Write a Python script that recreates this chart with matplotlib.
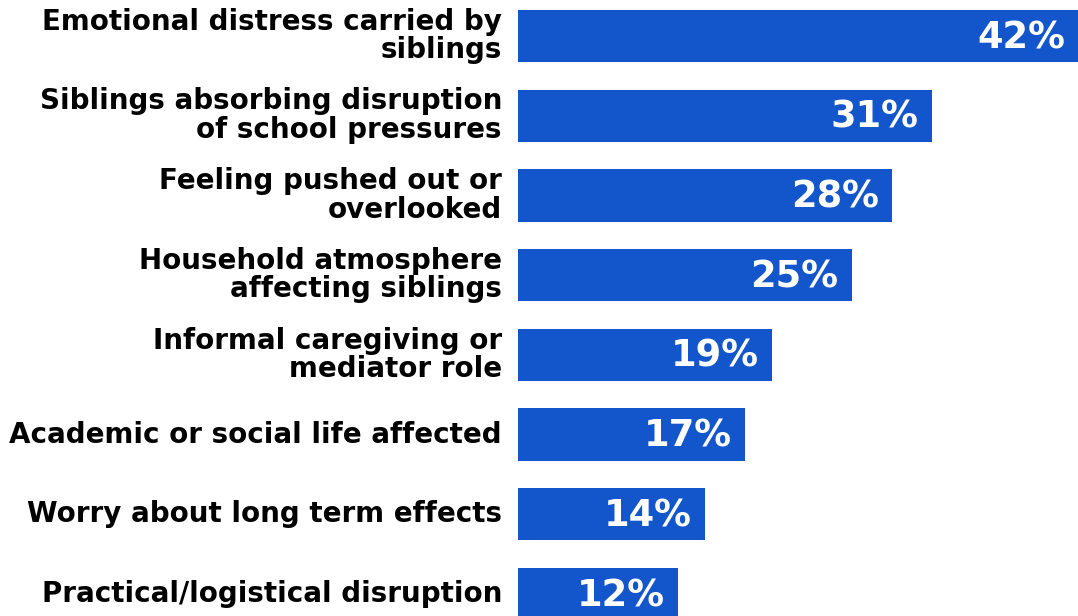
import matplotlib.pyplot as plt

# Reported sibling impacts, share of respondents (%)
categories = [
    "Emotional distress carried by\nsiblings",
    "Siblings absorbing disruption\nof school pressures",
    "Feeling pushed out or\noverlooked",
    "Household atmosphere\naffecting siblings",
    "Informal caregiving or\nmediator role",
    "Academic or social life affected",
    "Worry about long term effects",
    "Practical/logistical disruption",
]
values = [42, 31, 28, 25, 19, 17, 14, 12]

bar_color = "#1356CC"

fig = plt.figure(figsize=(10.78, 6.16), dpi=100)
ax = fig.add_axes([518 / 1078, 0, 561 / 1078, 1])

ypos = list(range(len(values)))
ax.barh(ypos, values, height=0.655, color=bar_color)

ax.set_xlim(0, 42)
ax.set_ylim(7.276, -0.4516)

for y, v in zip(ypos, values):
    ax.text(v - 1.0, y + 0.02, f"{v}%", ha="right", va="center",
            color="white", fontsize=26.5, fontweight="bold")

for y, label in zip(ypos, categories):
    ax.text(-1.2, y, label, ha="right", va="center", color="black",
            fontsize=20, fontweight="bold", linespacing=1.02)

ax.axis("off")
fig.savefig("out.png", dpi=100)
